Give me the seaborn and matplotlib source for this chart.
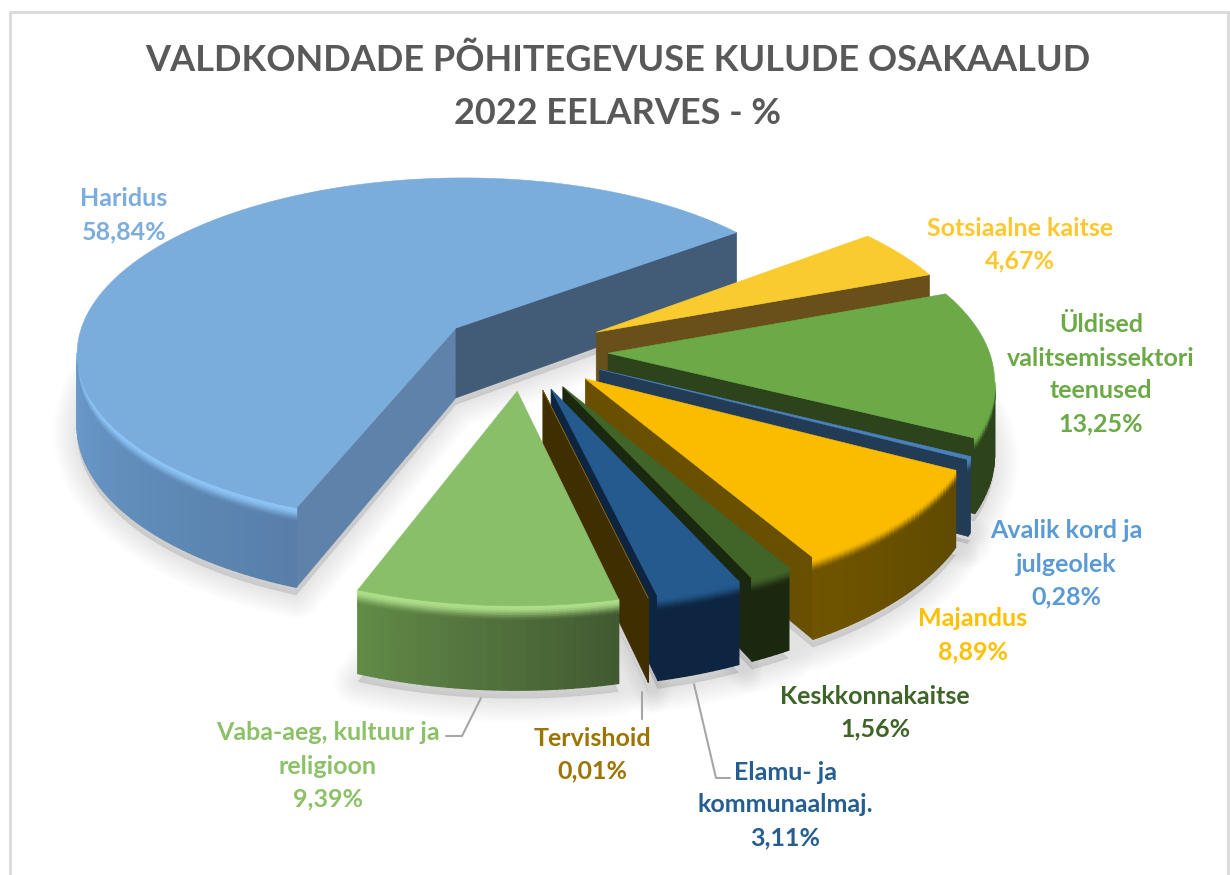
import matplotlib
matplotlib.use("Agg")
import matplotlib.pyplot as plt
import numpy as np
import seaborn as sns
from matplotlib.colors import to_rgb
from matplotlib.patches import Polygon, Rectangle

# andmed, paripaeva alates Haridusest
names = ["Haridus", "Sotsiaalne kaitse", "Üldised\nvalitsemissektori\nteenused",
         "Avalik kord ja\njulgeolek", "Majandus", "Keskkonnakaitse",
         "Elamu- ja\nkommunaalmaj.", "Tervishoid", "Vaba-aeg, kultuur ja\nreligioon"]
shares = [58.84, 4.67, 13.25, 0.28, 8.89, 1.56, 3.11, 0.01, 9.39]
share_labels = ["58,84%", "4,67%", "13,25%", "0,28%", "8,89%", "1,56%", "3,11%", "0,01%", "9,39%"]
title_lines = ["VALDKONDADE PÕHITEGEVUSE KULUDE OSAKAALUD", "2022 EELARVES - %"]

top_colors = ["#7AACDC", "#FACB2F", "#6BAA47", "#4A80BC", "#FBBC00", "#416529", "#255A8F", "#7F6000", "#8ABF6A"]
rim_colors = ["#8CC4F5", "#FACB2F", "#6BAA47", "#4A80BC", "#FBBC00", "#416529", "#255A8F", "#3F2E00", "#ACDE88"]
cut_start = ["#5F82AA", "#69501A", "#2C431C", "#233C55", "#695000", "#1B2810", "#0D2540", "#3F2E00", "#425A32"]
cut_end = ["#425C78", "#69501A", "#2C431C", "#233C55", "#695000", "#1B2810", "#0D2540", "#3F2E00", "#425A32"]
wall_left = ["#6A9BCB", "#69501A", "#2C431C", "#233C55", "#705400", "#1B2810", "#0D2540", "#3F2E00", "#618A47"]
wall_right = ["#587FAA", "#69501A", "#2C431C", "#233C55", "#5F4A00", "#1B2810", "#0D2540", "#3F2E00", "#425A32"]
label_colors = ["#7CADDC", "#FFC72E", "#6BAA47", "#5B9BD5", "#FFC000", "#3F6428", "#255E91", "#9C7400", "#8CC168"]
label_pos = [(124, 199), (1020, 228), (1101, 325), (1066, 531), (973, 619), (875, 696), (785, 772), (592, 738), (328, 733)]

CX, CY, R, EXPLODE = 523, 351, 381, 85
YS, KP, DEPTH = 0.46, 0.13, 71
START = 200.7


def project(x, y, z=0.0):
    f = 1 / (1 + KP * np.asarray(y) / R)
    return CX + np.asarray(x) * f, CY - np.asarray(y) * YS * f + z * f


def mix(c1, c2, t):
    return tuple((1 - t) * np.array(to_rgb(c1)) + t * np.array(to_rgb(c2)))


def slice_outline(a0, a1):
    mid = np.radians((a0 + a1) / 2)
    ox, oy = EXPLODE * np.sin(mid), EXPLODE * np.cos(mid)
    th = np.radians(np.linspace(a0, a1, max(3, int(a1 - a0) + 2)))
    return ox, oy, ox + R * np.sin(th), oy + R * np.cos(th)


def draw_cut(ax, ox, oy, x, y, mx, my, color):
    px, py = project(ox, oy)
    qx, qy = project(x, y)
    ix, iy = project(mx, my)
    cross_m = (qx - px) * (iy - py) - (qy - py) * (ix - px)
    cross_d = qx - px
    if cross_m * cross_d < 0:
        pbx, pby = project(ox, oy, DEPTH)
        qbx, qby = project(x, y, DEPTH)
        ax.add_patch(Polygon([(px, py), (qx, qy), (qbx, qby), (pbx, pby)], fc=color, ec=color, lw=0.5, zorder=3))


def draw_slice(ax, i, a0, a1):
    ox, oy, x, y = slice_outline(a0, a1)
    mid = len(x) // 2
    draw_cut(ax, ox, oy, x[0], y[0], x[mid], y[mid], cut_start[i])
    draw_cut(ax, ox, oy, x[-1], y[-1], x[mid], y[mid], cut_end[i])

    # valisserv: ulal hele faas, mis sulandub seina varvi
    sx, _ = project(x, y)
    rows = np.r_[np.linspace(0, 0.2, 11), 1.0]
    seg = [k for k in range(len(x) - 1) if sx[k + 1] < sx[k]]
    grad = sns.blend_palette([wall_left[i], wall_right[i]], max(len(seg), 2))
    for n, k in enumerate(seg):
        col = grad[len(seg) - 1 - n] if len(seg) > 1 else grad[0]
        for r in range(len(rows) - 1):
            xa, ya = project(x[k], y[k], DEPTH * rows[r])
            xb, yb = project(x[k + 1], y[k + 1], DEPTH * rows[r])
            xc, yc = project(x[k + 1], y[k + 1], DEPTH * rows[r + 1])
            xd, yd = project(x[k], y[k], DEPTH * rows[r + 1])
            t = np.clip((rows[r] - 0.02) / 0.16, 0, 1)
            c = mix(rim_colors[i], col, t * t * (3 - 2 * t))
            ax.add_patch(Polygon([(xa, ya), (xb, yb), (xc, yc), (xd, yd)], fc=c, ec=c, lw=1.0, zorder=3))

    tx, ty = project(np.r_[ox, x], np.r_[oy, y])
    ax.add_patch(Polygon(np.c_[tx, ty], fc=top_colors[i], ec=top_colors[i], lw=0.4, zorder=3))


def draw_shadow(ax, a0, a1):
    ox, oy, x, y = slice_outline(a0, a1)
    sxv, syv = project(np.r_[ox, x], np.r_[oy, y], DEPTH + 7)
    for lw in np.arange(2, 38, 4):
        ax.add_patch(Polygon(np.c_[sxv, syv], fc="#000000", ec="#000000", lw=lw, alpha=0.012, zorder=1, joinstyle="round"))


sns.set_theme(style="white")
plt.rcParams["font.family"] = ["Lato", "DejaVu Sans"]
plt.rcParams["font.weight"] = "bold"

fig = plt.figure(figsize=(12.3, 8.75), dpi=100)
ax = fig.add_axes([0, 0, 1, 1])
ax.set_xlim(0, 1230)
ax.set_ylim(875, 0)
ax.axis("off")

ax.add_patch(Rectangle((10, 12), 1218, 880, fc="white", ec="#D9D9D9", lw=2, zorder=0))

edges = START + np.r_[0, np.cumsum(shares)] / np.sum(shares) * 360
order = sorted(range(len(shares)), key=lambda k: -np.cos(np.radians((edges[k] + edges[k + 1]) / 2)))
for k in order:
    draw_shadow(ax, edges[k], edges[k + 1])
for k in order:
    draw_slice(ax, k, edges[k], edges[k + 1])

# viirud
for xs, ys in [((481, 462, 446), (698, 736, 736)), ((642, 642), (692, 719)), ((694, 716, 730), (684, 778, 778))]:
    ax.plot(xs, ys, color="#A6A6A6", lw=1.5, zorder=4)

for i, (lx, ly) in enumerate(label_pos):
    lines = names[i].split("\n") + [share_labels[i]]
    for j, line in enumerate(lines):
        ax.text(lx, ly + j * 33, line, color=label_colors[i], fontsize=18, fontweight="bold",
                ha="center", va="center", zorder=5)

for j, line in enumerate(title_lines):
    ax.text(618, 60 + j * 53, line, color="#595959", fontsize=26, fontweight="bold", ha="center", va="center", zorder=5)

fig.savefig("out.png", dpi=100)
